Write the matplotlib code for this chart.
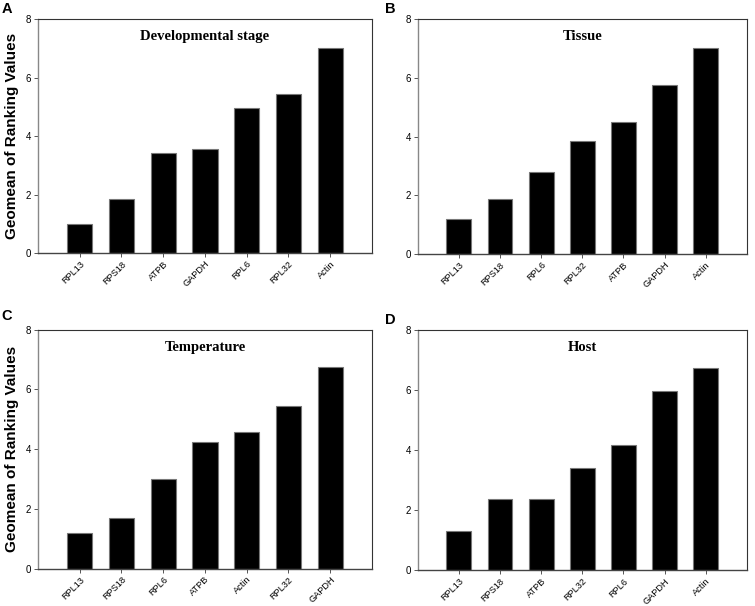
import matplotlib
matplotlib.use("Agg")
import matplotlib.pyplot as plt

plt.rcParams['font.family'] = ['Liberation Sans', 'DejaVu Sans']

# data
genes_a = ['RPL13', 'RPS18', 'ATPB', 'GAPDH', 'RPL6', 'RPL32', 'Actin']
vals_a = [1.0, 1.86, 3.41, 3.57, 4.97, 5.42, 7.0]

genes_b = ['RPL13', 'RPS18', 'RPL6', 'RPL32', 'ATPB', 'GAPDH', 'Actin']
vals_b = [1.2, 1.86, 2.78, 3.83, 4.48, 5.74, 7.0]

genes_c = ['RPL13', 'RPS18', 'RPL6', 'ATPB', 'Actin', 'RPL32', 'GAPDH']
vals_c = [1.19, 1.69, 3.0, 4.24, 4.56, 5.44, 6.75]

genes_d = ['RPL13', 'RPS18', 'ATPB', 'RPL32', 'RPL6', 'GAPDH', 'Actin']
vals_d = [1.32, 2.38, 2.38, 3.4, 4.15, 5.97, 6.74]

titles = ['Developmental stage', 'Tissue', 'Temperature', 'Host']
letters = ['A', 'B', 'C', 'D']

fig = plt.figure(figsize=(7.55, 6.06), dpi=100)

# axes rectangles [left, bottom, width, height]
rects = [[0.0503, 0.5825, 0.4424, 0.3861],
         [0.5532, 0.5809, 0.4362, 0.3877],
         [0.0503, 0.0616, 0.4424, 0.3944],
         [0.5532, 0.0589, 0.4362, 0.3971]]
letter_pos = [(0.002, 0.997), (0.51, 0.997), (0.002, 0.49), (0.51, 0.483)]

panels = [(genes_a, vals_a), (genes_b, vals_b), (genes_c, vals_c), (genes_d, vals_d)]

for i, (genes, vals) in enumerate(panels):
    ax = fig.add_axes(rects[i])
    x = list(range(len(genes)))
    ax.bar(x, vals, width=0.6, color='black', edgecolor='#777777', linewidth=0.8)
    ax.set_xlim(-1, 7)
    ax.set_ylim(0, 8)
    ax.set_yticks([0, 2, 4, 6, 8])
    ax.set_xticks(x)
    ax.set_xticklabels(genes, rotation=45, ha='right', rotation_mode='anchor', fontsize=6.6)
    ax.tick_params(axis='y', labelsize=7, length=3, width=0.7, color='#555555', pad=2)
    ax.tick_params(axis='x', length=3, width=0.7, color='#555555', pad=1.5)
    for s in ['top', 'right']:
        ax.spines[s].set_color('#333333')
        ax.spines[s].set_linewidth(0.8)
    ax.spines['left'].set_color('#888888')
    ax.spines['left'].set_linewidth(1.0)
    ax.spines['bottom'].set_color('#444444')
    ax.spines['bottom'].set_linewidth(1.0)
    ax.text(3, 7.4, titles[i], ha='center', va='center', fontsize=10.5,
            fontweight='bold', family='Liberation Serif')
    if i % 2 == 0:
        ax.set_ylabel('Geomean of Ranking Values', fontsize=11, fontweight='bold', labelpad=5)
    fig.text(letter_pos[i][0], letter_pos[i][1], letters[i], ha='left', va='top',
             fontsize=10.5, fontweight='bold')

fig.savefig('out.png', dpi=100)
